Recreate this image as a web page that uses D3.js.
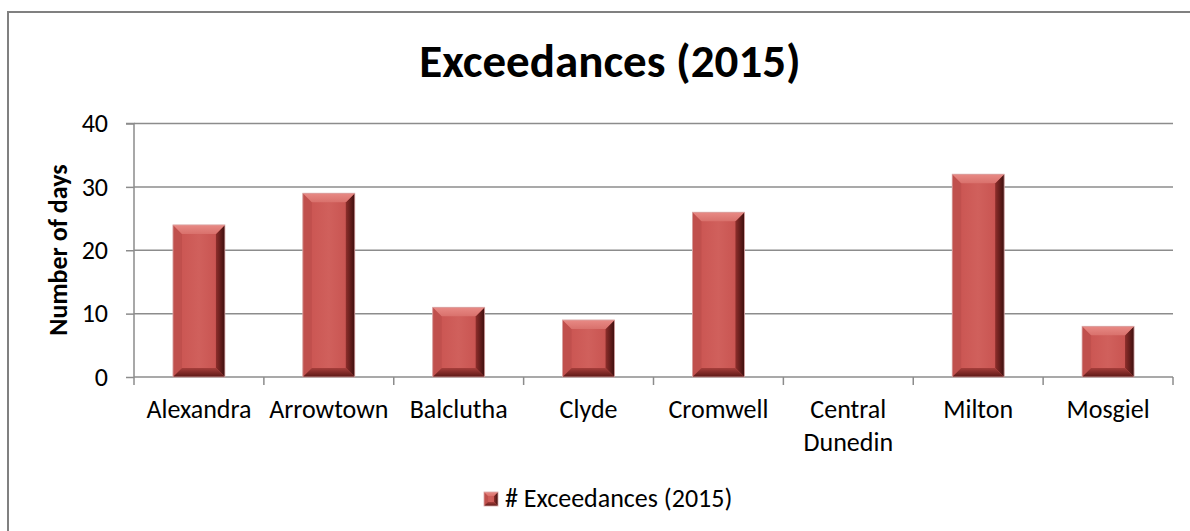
<!DOCTYPE html>
<html><head><meta charset="utf-8">
<script src="https://cdn.jsdelivr.net/npm/d3@7"></script>
<style>
html,body{margin:0;padding:0;background:#fff;}
svg{display:block;}
text{font-family:Carlito,Lato,"Open Sans",sans-serif;fill:#000;}
</style></head>
<body><svg id="c" width="1190" height="531"></svg>
<script>
const categories = [["Alexandra"],["Arrowtown"],["Balclutha"],["Clyde"],["Cromwell"],["Central","Dunedin"],["Milton"],["Mosgiel"]];
const values = [24, 29, 11, 9, 26, 0, 32, 8];
const yTicks = [0, 10, 20, 30, 40];
const titleText = "Exceedances (2015)";
const yTitle = "Number of days";
const seriesName = "# Exceedances (2015)";

const svg = d3.select("#c");
const W = 1190, H = 531;
const m = {left:134, right:1173, top:123.5, bottom:377};
const FS = 26;

// chart border (left/top visible)
svg.append("rect").attr("x",8).attr("y",12).attr("width",W).attr("height",H)
  .attr("fill","#fff").attr("stroke","#808080").attr("stroke-width",2);

const defs = svg.append("defs");
const gMain = defs.append("linearGradient").attr("id","gmain").attr("x1",0).attr("x2",1).attr("y1",0).attr("y2",0);
gMain.append("stop").attr("offset","0").attr("stop-color","#c9524f");
gMain.append("stop").attr("offset","0.5").attr("stop-color","#d0605c");
gMain.append("stop").attr("offset","1").attr("stop-color","#c54f4c");
const gRight = defs.append("linearGradient").attr("id","gright").attr("x1",0).attr("x2",1).attr("y1",0).attr("y2",0);
gRight.append("stop").attr("offset","0").attr("stop-color","#8e2e2b");
gRight.append("stop").attr("offset","1").attr("stop-color","#3d0f0e");
const gTop = defs.append("linearGradient").attr("id","gtop").attr("x1",0).attr("x2",0).attr("y1",0).attr("y2",1);
gTop.append("stop").attr("offset","0").attr("stop-color","#e88a85");
gTop.append("stop").attr("offset","1").attr("stop-color","#d9716c");
const gBot = defs.append("linearGradient").attr("id","gbot").attr("x1",0).attr("x2",0).attr("y1",0).attr("y2",1);
gBot.append("stop").attr("offset","0").attr("stop-color","#a63e3b");
gBot.append("stop").attr("offset","1").attr("stop-color","#5c1816");

const x = d3.scaleBand().domain(d3.range(categories.length)).range([m.left, m.right]).paddingInner(0.6).paddingOuter(0.3);
const xb = d3.scaleBand().domain(d3.range(categories.length)).range([m.left, m.right]).padding(0);
const y = d3.scaleLinear().domain([0,40]).range([m.bottom, m.top]);

// gridlines
svg.append("g").selectAll("line").data(yTicks.filter(d=>d>0)).join("line")
  .attr("x1",m.left).attr("x2",m.right).attr("y1",d=>y(d)).attr("y2",d=>y(d))
  .attr("stroke","#8c8c8c").attr("stroke-width",1.5);

// y axis
const ya = svg.append("g").attr("transform",`translate(${m.left},0)`)
  .call(d3.axisLeft(y).tickValues(yTicks).tickSize(8).tickPadding(18).tickFormat(d3.format("d")));
ya.select(".domain").attr("stroke","#8c8c8c").attr("stroke-width",1.5).attr("d",`M-8,${m.top}H0V${m.bottom}`);
ya.selectAll(".tick line").attr("stroke","#8c8c8c").attr("stroke-width",1.5);
ya.selectAll(".tick text").attr("font-size",FS).attr("font-family","Carlito,Lato,sans-serif").attr("fill","#000");

// x axis line and ticks
svg.append("line").attr("x1",m.left).attr("x2",m.right).attr("y1",y(0)).attr("y2",y(0))
  .attr("stroke","#8c8c8c").attr("stroke-width",1.5);
const bounds = d3.range(categories.length+1).map(i => i<categories.length ? xb(i) : m.right);
svg.append("g").selectAll("line").data(bounds).join("line")
  .attr("x1",d=>d).attr("x2",d=>d).attr("y1",y(0)).attr("y2",y(0)+8)
  .attr("stroke","#8c8c8c").attr("stroke-width",1.5);

// category labels
const cl = svg.append("g").selectAll("text").data(categories).join("text")
  .attr("text-anchor","middle").attr("font-size",FS)
  .attr("x",(d,i)=>xb(i)+xb.bandwidth()/2).attr("y",418);
cl.selectAll("tspan").data(d=>d).join("tspan")
  .attr("x",function(){return this.parentNode.getAttribute("x");})
  .attr("dy",(d,i)=>i===0?0:33).text(d=>d);

// bevelled bar
function bevelBar(g, bx, by, bw, bh, b){
  b = Math.min(b, bw/2, bh/2);
  g.append("rect").attr("x",bx).attr("y",by).attr("width",bw).attr("height",bh).attr("fill","url(#gmain)");
  const pt = (a)=>a.map(p=>p.join(",")).join(" ");
  g.append("polygon").attr("points",pt([[bx,by],[bx+b,by+b],[bx+b,by+bh-b],[bx,by+bh]])).attr("fill","#c0504d");
  g.append("polygon").attr("points",pt([[bx+bw,by],[bx+bw-b,by+b],[bx+bw-b,by+bh-b],[bx+bw,by+bh]])).attr("fill","url(#gright)");
  g.append("polygon").attr("points",pt([[bx,by],[bx+bw,by],[bx+bw-b,by+b],[bx+b,by+b]])).attr("fill","url(#gtop)");
  g.append("polygon").attr("points",pt([[bx,by+bh],[bx+bw,by+bh],[bx+bw-b,by+bh-b],[bx+b,by+bh-b]])).attr("fill","url(#gbot)");
  g.append("rect").attr("x",bx).attr("y",by).attr("width",bw).attr("height",bh).attr("fill","none").attr("stroke","#d9a9a8").attr("stroke-width",0.8);
}
const bars = svg.append("g");
values.forEach((v,i)=>{
  if(v<=0) return;
  const g = bars.append("g");
  bevelBar(g, x(i), y(v), x.bandwidth(), y(0)-y(v), 9);
});

// title
svg.append("text").attr("x",610).attr("y",77).attr("text-anchor","middle")
  .attr("font-size",47).attr("font-weight","bold").text(titleText);

// y title
svg.append("text").attr("transform","translate(67,250) rotate(-90)").attr("text-anchor","middle")
  .attr("font-size",FS).attr("font-weight","bold").text(yTitle);

// legend
const lg = svg.append("g");
bevelBar(lg, 484, 492, 14, 14, 4);
lg.append("text").attr("x",505).attr("y",507).attr("font-size",FS).text(seriesName);
</script></body></html>
